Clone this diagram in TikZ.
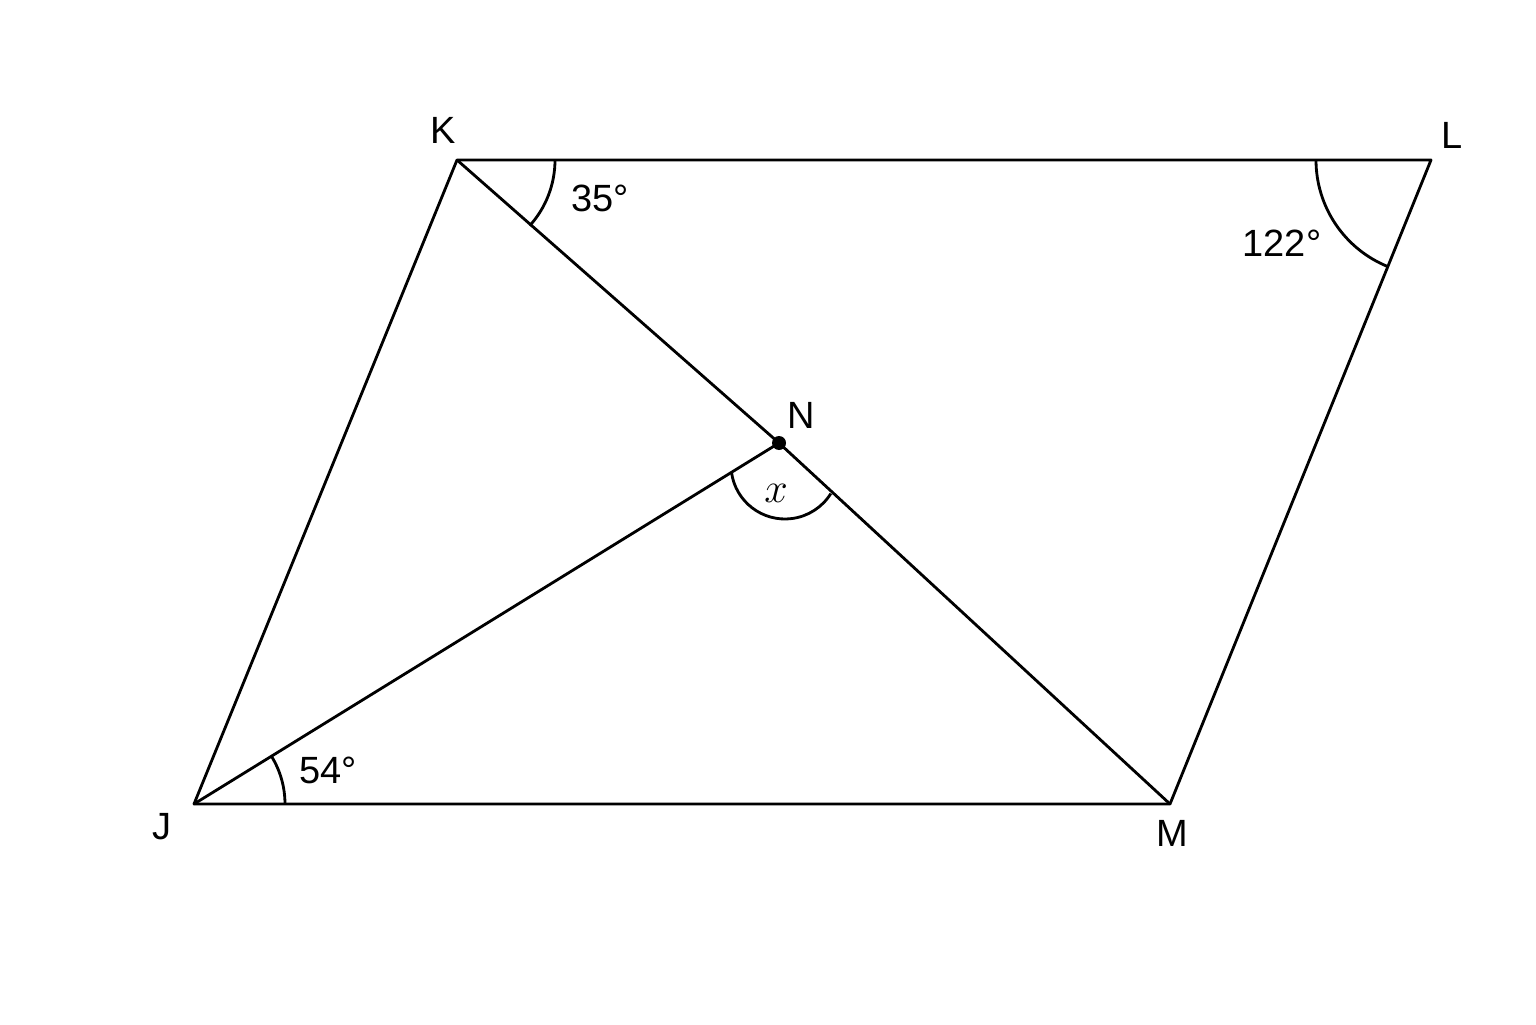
\documentclass[tikz,border=0pt]{standalone}
\usepackage{fontspec}
\setmainfont{Liberation Sans}
\usetikzlibrary{angles}

\begin{document}
\begin{tikzpicture}[
    line width=0.8pt, line join=round,
    lbl/.style={inner sep=0pt, font=\fontsize{10.8}{13}\selectfont},
    mark/.style={draw, angle radius=#1}
]
    \useasboundingbox (0,0) rectangle (15.36,10.24);

    % Vertices
    \coordinate (J) at (1.94,2.20);
    \coordinate (K) at (4.57,8.64);
    \coordinate (L) at (14.31,8.64);
    \coordinate (M) at (11.70,2.20);
    \coordinate (N) at (7.79,5.81);

    % Sides and segments
    \draw (J) -- (K) -- (L) -- (M) -- cycle;
    \draw (K) -- (N) -- (M);
    \draw (J) -- (N);
    \fill (N) circle (0.07);

    % Angle marks
    \pic [mark=0.98cm] {angle=M--K--L};
    \pic [mark=1.15cm] {angle=K--L--M};
    \pic [mark=0.91cm] {angle=M--J--N};
    \draw ([shift={(0.06,-0.22)}]N) ++(187.5:0.54) arc[start angle=187.5, end angle=328, radius=0.54];

    % Labels
    \node[lbl] (lK) at (4.43,8.94) {K};
    \node[lbl] (lL) at (14.52,8.89) {L};
    \node[lbl] (lJ) at (1.62,1.97) {J};
    \node[lbl] (lM) at (11.72,1.91) {M};
    \node[lbl] (lN) at (8.01,6.09) {N};
    \node[lbl] (aK) at (6.00,8.26) {35°};
    \node[lbl] (aL) at (12.82,7.81) {122°};
    \node[lbl] (aJ) at (3.28,2.54) {54°};
    \node[inner sep=0pt, font=\fontsize{12.5}{14}\selectfont] (aN) at (7.76,5.31) {$x$};
\end{tikzpicture}
\end{document}
